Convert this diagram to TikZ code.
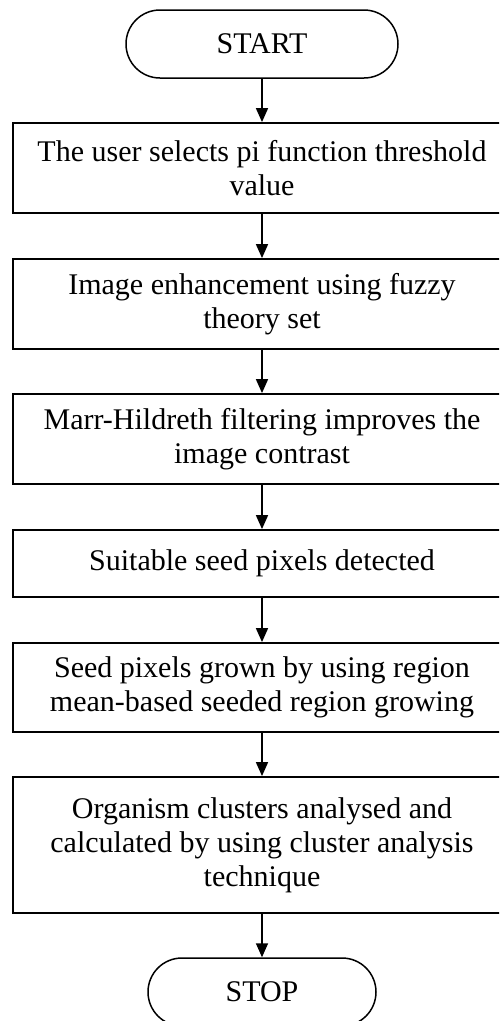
\documentclass[tikz,border=0pt]{standalone}
\usepackage{fontspec}
\setmainfont{Liberation Serif}
\usetikzlibrary{arrows.meta,shapes.misc}
\begin{document}
\begin{tikzpicture}[x=1pt,y=-1pt,
  txt/.style={font=\fontsize{30}{34}\selectfont, align=center, inner sep=0pt},
  stepbox/.style={txt, draw, line width=1.8pt, rectangle, minimum width=498pt},
  term/.style={txt, draw, line width=1.5pt, rounded rectangle, rounded rectangle arc length=180, minimum height=68pt},
  conn/.style={line width=1.6pt, -{Triangle[length=14pt,width=12pt]}}
]
\clip (0,0) rectangle (499,1021);
\node[term, minimum width=272pt] (start) at (262,44) {START};
\node[stepbox, minimum height=90pt] (b1) at (262,168) {The user selects pi function threshold\\value};
\node[stepbox, minimum height=90pt] (b2) at (262,304) {Image enhancement using fuzzy\\theory set};
\node[stepbox, minimum height=90pt] (b3) at (262,439) {Marr-Hildreth filtering improves the\\image contrast};
\node[stepbox, minimum height=67pt] (b4) at (262,563.5) {Suitable seed pixels detected};
\node[stepbox, minimum height=89pt] (b5) at (262,687.5) {Seed pixels grown by using region\\mean-based seeded region growing};
\node[stepbox, minimum height=136pt] (b6) at (262,845) {Organism clusters analysed and\\calculated by using cluster analysis\\technique};
\node[term, minimum width=228pt] (stop) at (262,992) {STOP};
\draw[conn] (start) -- (b1);
\draw[conn] (b1) -- (b2);
\draw[conn] (b2) -- (b3);
\draw[conn] (b3) -- (b4);
\draw[conn] (b4) -- (b5);
\draw[conn] (b5) -- (b6);
\draw[conn] (b6) -- (stop);
\end{tikzpicture}
\end{document}
